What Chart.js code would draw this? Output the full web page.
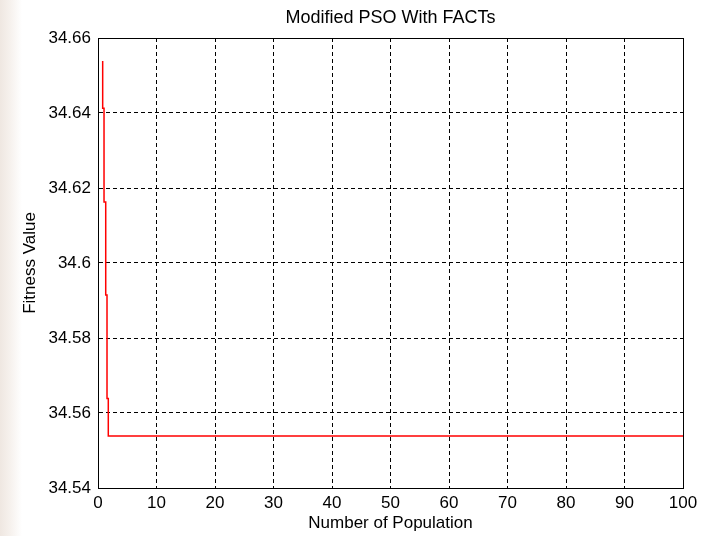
<!DOCTYPE html>
<html>
<head>
<meta charset="utf-8">
<script src="https://cdn.jsdelivr.net/npm/chart.js@4"></script>
<style>
  html, body { margin: 0; padding: 0; background: #ffffff; }
  body { width: 711px; height: 536px; overflow: hidden;
         background: linear-gradient(to right, #efe7e1 0px, #f6f1ed 10px, #ffffff 22px); }
  #wrap { width: 711px; height: 536px; }
</style>
</head>
<body>
<div id="wrap"><canvas id="psoChart" width="711" height="536"></canvas></div>
<script>
// values (step curve, then flat)
const popX = [0.8, 0.8, 1.03, 1.03, 1.32, 1.32, 1.54, 1.54, 1.76, 1.76, 100];
const fitY = [34.6539, 34.6413, 34.6413, 34.6163, 34.6163, 34.5915, 34.5915, 34.5639, 34.5639, 34.5539, 34.5539];
const xTicks = [0, 10, 20, 30, 40, 50, 60, 70, 80, 90, 100];
const yTicks = [34.54, 34.56, 34.58, 34.6, 34.62, 34.64, 34.66];
const chartTitle = 'Modified PSO With FACTs';

const points = popX.map((x, i) => ({ x: x, y: fitY[i] }));
const FONT = 'Liberation Sans, Arial';

// full black box round the plot area, plus the title centred over it (matlab style)
const boxPlugin = {
  id: 'box',
  afterDatasetsDraw(chart) {
    const a = chart.chartArea, ctx = chart.ctx;
    ctx.save();
    ctx.strokeStyle = '#000';
    ctx.lineWidth = 1;
    ctx.strokeRect(Math.round(a.left) + 0.5, Math.round(a.top) + 0.5,
                   Math.round(a.right - a.left), Math.round(a.bottom - a.top));
    ctx.fillStyle = '#000';
    ctx.font = '18px ' + FONT;
    ctx.textAlign = 'center';
    ctx.textBaseline = 'middle';
    ctx.fillText(chartTitle, (a.left + a.right) / 2, a.top - 20);
    ctx.restore();
  }
};

const ctx = document.getElementById('psoChart').getContext('2d');
new Chart(ctx, {
  type: 'scatter',
  data: {
    datasets: [{
      label: 'Fitness',
      data: points,
      showLine: true,
      borderColor: '#ff0000',
      borderWidth: 1.5,
      pointRadius: 0,
      tension: 0
    }]
  },
  options: {
    responsive: false,
    animation: false,
    layout: { padding: { left: 0, right: 28, top: 38, bottom: 0 } },
    plugins: {
      legend: { display: false },
      tooltip: { enabled: false },
      title: { display: false }
    },
    scales: {
      x: {
        type: 'linear',
        min: 0, max: 100,
        afterBuildTicks: (s) => { s.ticks = xTicks.map(v => ({ value: v })); },
        afterFit: (s) => { s.height = 48; },
        grid: { color: '#000', lineWidth: 1, drawTicks: false },
        border: { display: true, color: '#000', dash: [4, 3] },
        ticks: { color: '#000', font: { family: FONT, size: 17 }, padding: 5, maxRotation: 0 },
        title: {
          display: true,
          text: 'Number of Population',
          color: '#000',
          font: { family: FONT, size: 17 },
          padding: { top: 0, bottom: 2 }
        }
      },
      y: {
        type: 'linear',
        min: 34.54, max: 34.66,
        afterBuildTicks: (s) => { s.ticks = yTicks.map(v => ({ value: v })); },
        afterFit: (s) => { s.width = 98; },
        grid: { color: '#000', lineWidth: 1, drawTicks: false },
        border: { display: true, color: '#000', dash: [4, 3] },
        ticks: {
          color: '#000',
          font: { family: FONT, size: 17 },
          padding: 7,
          callback: (v) => Number(v.toFixed(2)).toString()
        },
        title: {
          display: true,
          text: 'Fitness Value',
          color: '#000',
          font: { family: FONT, size: 17 },
          padding: { top: 20, bottom: 0 }
        }
      }
    }
  },
  plugins: [boxPlugin]
});
</script>
</body>
</html>
